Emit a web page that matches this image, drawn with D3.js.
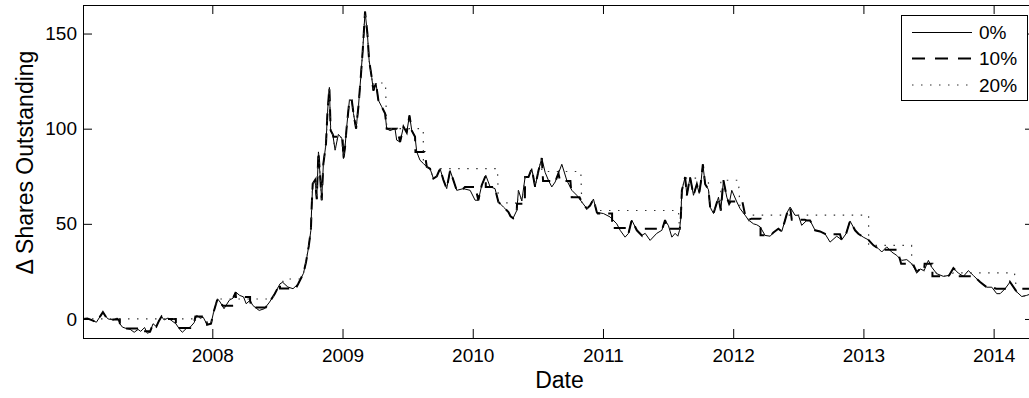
<!DOCTYPE html>
<html>
<head>
<meta charset="utf-8">
<script src="https://cdn.jsdelivr.net/npm/d3@7"></script>
<style>
  body { margin: 0; background: #fff; }
  svg { display: block; }
  text { font-family: "Liberation Sans", Arial, sans-serif; }
</style>
</head>
<body>
<div id="chart"></div>
<script>
// dates as decimal years
const years = [
  2007.007, 2007.04, 2007.07, 2007.11, 2007.14, 2007.16, 2007.18, 2007.20, 2007.24, 2007.27,
  2007.29, 2007.31, 2007.34, 2007.37, 2007.40, 2007.43, 2007.45, 2007.48, 2007.50, 2007.52,
  2007.545, 2007.57, 2007.59, 2007.61, 2007.63, 2007.66, 2007.69, 2007.72, 2007.75, 2007.77,
  2007.80, 2007.83, 2007.86, 2007.88, 2007.91, 2007.93, 2007.96, 2007.99, 2008.01, 2008.04,
  2008.06, 2008.09, 2008.13, 2008.16, 2008.18, 2008.21, 2008.24, 2008.26, 2008.29, 2008.31,
  2008.34, 2008.36, 2008.40, 2008.44, 2008.48, 2008.52, 2008.54, 2008.58, 2008.62, 2008.66,
  2008.70, 2008.72, 2008.74, 2008.757, 2008.763, 2008.771, 2008.789, 2008.802, 2008.815, 2008.827,
  2008.84, 2008.853, 2008.873, 2008.884, 2008.899, 2008.909, 2008.925, 2008.943, 2008.968, 2008.994,
  2009.007, 2009.019, 2009.032, 2009.053, 2009.071, 2009.084, 2009.104, 2009.122, 2009.140, 2009.155,
  2009.173, 2009.191, 2009.204, 2009.224, 2009.237, 2009.257, 2009.275, 2009.301, 2009.327, 2009.339,
  2009.365, 2009.403, 2009.416, 2009.442, 2009.468, 2009.493, 2009.514, 2009.532, 2009.557, 2009.570,
  2009.595, 2009.621, 2009.647, 2009.672, 2009.698, 2009.724, 2009.749, 2009.775, 2009.800, 2009.826,
  2009.851, 2009.877, 2009.928, 2009.980, 2010.018, 2010.043, 2010.069, 2010.100, 2010.133, 2010.171,
  2010.197, 2010.236, 2010.274, 2010.29, 2010.31, 2010.338, 2010.351, 2010.377, 2010.402, 2010.428,
  2010.453, 2010.479, 2010.505, 2010.530, 2010.556, 2010.581, 2010.607, 2010.633, 2010.658, 2010.684,
  2010.722, 2010.761, 2010.799, 2010.837, 2010.876, 2010.901, 2010.927, 2010.953, 2011.004, 2011.055,
  2011.106, 2011.132, 2011.170, 2011.196, 2011.221, 2011.260, 2011.298, 2011.324, 2011.362, 2011.413,
  2011.452, 2011.477, 2011.503, 2011.529, 2011.554, 2011.575, 2011.588, 2011.598, 2011.606, 2011.631,
  2011.644, 2011.669, 2011.695, 2011.721, 2011.739, 2011.754, 2011.767, 2011.785, 2011.810, 2011.823,
  2011.849, 2011.887, 2011.905, 2011.925, 2011.951, 2011.969, 2011.989, 2012.028, 2012.053, 2012.092,
  2012.117, 2012.156, 2012.181, 2012.207, 2012.245, 2012.284, 2012.309, 2012.347, 2012.373, 2012.398,
  2012.416, 2012.437, 2012.475, 2012.501, 2012.526, 2012.565, 2012.590, 2012.629, 2012.667, 2012.705,
  2012.744, 2012.795, 2012.833, 2012.867, 2012.897, 2012.936, 2012.961, 2012.999, 2013.038, 2013.077,
  2013.115, 2013.141, 2013.179, 2013.217, 2013.256, 2013.294, 2013.333, 2013.371, 2013.410, 2013.435,
  2013.466, 2013.499, 2013.525, 2013.563, 2013.614, 2013.658, 2013.691, 2013.729, 2013.768, 2013.806,
  2013.845, 2013.896, 2013.947, 2013.986, 2014.024, 2014.050, 2014.088, 2014.126, 2014.178, 2014.216,
  2014.254, 2014.29, 2014.32
];

// 0% series: change in shares outstanding
const shares0 = [
  0, 0.2, -0.5, -1.7, 1.5, 3.6, 1.5, 0, -0.5, 0.5,
  -2.5, -4.3, -5, -5.5, -7, -5.5, -6.5, -4.5, -7.5, -7,
  -2.5, -4, -1, 1.3, -0.5, 0.5, -1, -2.5, -5.5, -7,
  -5, -4.3, -2, 1.8, 0.5, 0.9, -3, -2.5, 3.6, 10.6,
  8.9, 5.4, 9.8, 11, 14.1, 12.4, 11.6, 8, 9.8, 7.2,
  5.5, 4.5, 5.4, 8.9, 13.3, 18.5, 19.3, 16.8, 15.9, 18.5,
  24, 30, 38, 46.6, 58.8, 71, 73, 63, 87.8, 76,
  62.4, 81.7, 92, 108, 121.7, 99, 97, 88.7, 97, 95,
  84.3, 90, 101, 115, 115, 108, 100, 111.5, 127, 141,
  161.5, 150, 136, 127, 120, 124, 115, 111.5, 108, 100,
  99, 100, 94, 93, 101, 98, 107, 99, 95.7, 87.8,
  83.4, 81.7, 79.9, 79, 73.8, 75, 79, 73, 68.5, 78,
  73, 67.6, 68.5, 67.6, 62.4, 62.4, 70.3, 75.5, 69.5, 68.5,
  61.5, 58.8, 56.2, 54, 53, 57, 67.6, 62, 74.6, 74.6,
  79, 69.4, 78, 84.6, 77, 72.9, 69.4, 72, 76.5, 81.3,
  72.9, 67.6, 65, 61.5, 58, 59.6, 63, 56, 55.4, 53.6,
  50, 46.6, 43, 45, 52, 46.6, 43.9, 45, 41.3, 45,
  46.6, 52, 49, 43, 45, 43.5, 46.6, 53.6, 67.6, 74.6,
  65, 74.6, 65, 70.8, 66, 72.9, 81.3, 70.8, 68, 58.8,
  55.4, 64, 57, 72.9, 64, 60.5, 67.6, 61.5, 58, 54.5,
  52, 50, 49.5, 48.4, 43.9, 43.5, 45.5, 47.4, 46, 51.8,
  56.2, 58.8, 54.5, 54.5, 49.2, 51.8, 51.8, 46.6, 46, 44.8,
  40.4, 43.5, 41.6, 44.8, 51.5, 46.6, 44.8, 43, 41.6, 38.7,
  37, 35.2, 37.9, 35.2, 33.4, 30.8, 31.2, 29, 24.6, 26.3,
  25.4, 30.8, 27.2, 23.8, 22.4, 22.9, 26.7, 24.1, 22.4, 25.4,
  22.8, 19.4, 16.7, 16.7, 13.3, 13.3, 15.9, 19.4, 14.2, 11.8,
  12.4, 13.3, 14.5, 15
];

// flat stretches where the 10% series holds: [start, end, level]
const holds10 = [
  [2007.19, 2007.29, -0.3], [2007.33, 2007.43, -5], [2007.44, 2007.52, -6.5],
  [2007.64, 2007.72, 0], [2007.75, 2007.83, -4.8], [2007.87, 2007.95, 1.3],
  [2008.08, 2008.16, 7], [2008.18, 2008.29, 11.6], [2008.30, 2008.41, 6],
  [2008.52, 2008.64, 16], [2008.93, 2009.00, 95.7], [2009.34, 2009.42, 100],
  [2009.56, 2009.63, 87.8], [2009.94, 2010.02, 69.4], [2010.10, 2010.17, 69.4],
  [2010.34, 2010.40, 60.6], [2010.54, 2010.63, 72.5], [2010.67, 2010.75, 72.5],
  [2010.76, 2010.82, 64], [2010.96, 2011.07, 55.4], [2011.07, 2011.19, 47.8],
  [2011.31, 2011.42, 47.4], [2011.49, 2011.59, 47.4], [2011.98, 2012.07, 61.8],
  [2012.14, 2012.21, 52.7], [2012.21, 2012.29, 44], [2012.45, 2012.55, 52.2],
  [2012.71, 2012.82, 44.5], [2013.13, 2013.26, 36.4], [2013.29, 2013.38, 29],
  [2013.47, 2013.53, 29], [2013.53, 2013.65, 22.5], [2013.73, 2013.84, 22.5],
  [2014.02, 2014.11, 15.9], [2014.20, 2014.32, 15.9]
];

// flat stretches where the 20% series holds
const holds20 = [
  [2007.007, 2007.86, 0], [2008.05, 2008.46, 10.5], [2008.55, 2008.68, 21],
  [2009.24, 2009.33, 124], [2009.35, 2009.62, 100], [2009.75, 2010.19, 79],
  [2010.20, 2010.33, 61], [2010.53, 2010.83, 77.5], [2010.95, 2011.58, 57],
  [2011.64, 2011.81, 74], [2011.905, 2012.04, 72.9], [2012.12, 2013.04, 54.6],
  [2013.04, 2013.37, 38.7], [2013.69, 2014.16, 24.2]
];

const xTicks = [2008, 2009, 2010, 2011, 2012, 2013, 2014];
const yTicks = [0, 50, 100, 150];
const seriesNames = ["0%", "10%", "20%"];

const w = 1029;
const h = 398;
const plotLeft = 83, plotRight = 1034, plotTop = 5, plotBottom = 338;

const x = d3.scaleLinear().domain([2007.007, 2014.31]).range([plotLeft, plotRight]);
const y = d3.scaleLinear().domain([-10, 165]).range([plotBottom, plotTop]);

const svg = d3.select("#chart")
    .append("svg")
    .attr("width", w)
    .attr("height", h);

svg.append("clipPath")
    .attr("id", "plot-clip")
    .append("rect")
    .attr("x", plotLeft)
    .attr("y", plotTop)
    .attr("width", plotRight - plotLeft)
    .attr("height", plotBottom - plotTop);

const base = years.map((t, i) => [t, shares0[i]]);

// series that stays flat inside each hold and follows the 0% line elsewhere
const withHolds = (holds) => {
    const pts = [];
    let k = 0;
    base.forEach(([t, v]) => {
        while (k < holds.length && holds[k][0] < t) {
            pts.push([holds[k][0], holds[k][2]], [holds[k][1], holds[k][2]]);
            k++;
        }
        if (holds.some(([s, e]) => t > s && t < e)) return;
        pts.push([t, v]);
    });
    for (; k < holds.length; k++) pts.push([holds[k][0], holds[k][2]], [holds[k][1], holds[k][2]]);
    return pts;
};

const line = d3.line().x(d => x(d[0])).y(d => y(d[1]));

const styles = [
    { stroke: "#000", width: 1, dash: null },
    { stroke: "#000", width: 2, dash: "12,8" },
    { stroke: "#333", width: 1.2, dash: "1.5,7.5" }
];
const seriesData = [base, withHolds(holds10), withHolds(holds20)];

const plot = svg.append("g").attr("clip-path", "url(#plot-clip)");
seriesData.forEach((d, i) => {
    plot.append("path")
        .datum(d)
        .attr("fill", "none")
        .attr("stroke", styles[i].stroke)
        .attr("stroke-width", styles[i].width)
        .attr("stroke-dasharray", styles[i].dash)
        .attr("d", line);
});

// axes with inward ticks on all four sides
const fontSize = 19;
const styleAxis = g => {
    g.attr("font-size", fontSize).attr("font-family", null);
    g.select(".domain").remove();
    g.selectAll("line").attr("stroke", "#000");
    g.selectAll("text").attr("fill", "#000");
};

svg.append("g")
    .attr("transform", `translate(0,${plotBottom})`)
    .call(d3.axisBottom(x).tickValues(xTicks).tickSize(-9).tickPadding(11).tickFormat(d3.format("d")))
    .call(styleAxis);

svg.append("g")
    .attr("transform", `translate(0,${plotTop})`)
    .call(d3.axisTop(x).tickValues(xTicks).tickSize(-9).tickFormat(""))
    .call(styleAxis);

svg.append("g")
    .attr("transform", `translate(${plotLeft},0)`)
    .call(d3.axisLeft(y).tickValues(yTicks).tickSize(-9).tickPadding(6))
    .call(styleAxis);

svg.append("g")
    .attr("transform", `translate(${plotRight},0)`)
    .call(d3.axisRight(y).tickValues(yTicks).tickSize(-9).tickFormat(""))
    .call(styleAxis);

svg.append("rect")
    .attr("x", plotLeft + 0.5)
    .attr("y", plotTop + 0.5)
    .attr("width", plotRight - plotLeft)
    .attr("height", plotBottom - plotTop)
    .attr("fill", "none")
    .attr("stroke", "#000")
    .attr("stroke-width", 1);

svg.append("text")
    .attr("x", (plotLeft + plotRight) / 2 + 1)
    .attr("y", 388)
    .attr("text-anchor", "middle")
    .attr("font-size", 23)
    .text("Date");

svg.append("text")
    .attr("transform", "translate(33,162.5) rotate(-90)")
    .attr("text-anchor", "middle")
    .attr("font-size", 23)
    .text("\u0394 Shares Outstanding");

// legend
const legend = svg.append("g").attr("transform", "translate(901,15)");
legend.append("rect")
    .attr("x", 0.5)
    .attr("y", 0.5)
    .attr("width", 126)
    .attr("height", 85)
    .attr("fill", "#fff")
    .attr("stroke", "#000");

const rowY = [17.5, 43.5, 70];
seriesNames.forEach((name, i) => {
    legend.append("line")
        .attr("x1", 11).attr("x2", 71)
        .attr("y1", rowY[i]).attr("y2", rowY[i])
        .attr("stroke", styles[i].stroke)
        .attr("stroke-width", styles[i].width)
        .attr("stroke-dasharray", i === 1 ? "13,10" : styles[i].dash);
    legend.append("text")
        .attr("x", 78)
        .attr("y", rowY[i])
        .attr("dy", "0.35em")
        .attr("font-size", fontSize)
        .text(name);
});
</script>
</body>
</html>
